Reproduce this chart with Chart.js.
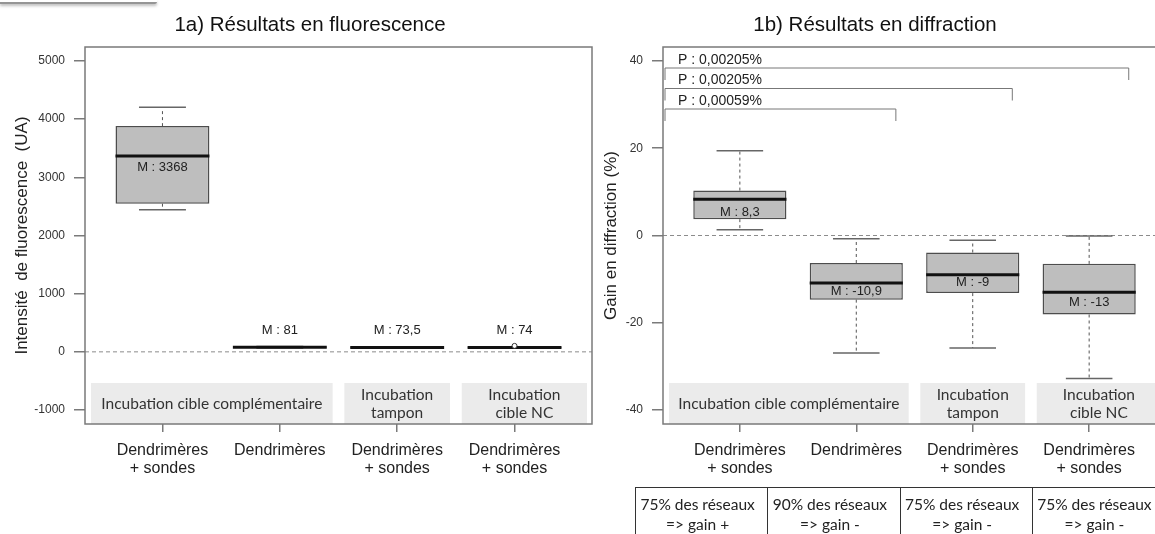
<!DOCTYPE html>
<html>
<head>
<meta charset="utf-8">
<script src="https://cdn.jsdelivr.net/npm/chart.js@4.4.0/dist/chart.umd.min.js"></script>
<style>
  html, body { margin: 0; padding: 0; background: #fff; }
  body { position: relative; width: 1155px; height: 534px; overflow: hidden; font-family: Arial, "Liberation Sans", sans-serif; }
  canvas { position: absolute; top: 0; }
  #chartA { left: 0; }
  #chartB { left: 595px; }
  .title { position: absolute; top: 12px; width: 400px; text-align: center; font-size: 20.5px; line-height: 24px; color: #111; }
  #shadow { position: absolute; left: 0; top: 0; width: 157px; height: 2px; border-bottom: 2px solid #959595; box-shadow: 0 2px 3px rgba(0,0,0,.25); border-radius: 0 0 2px 0; }
  #net { position: absolute; left: 635px; top: 487px; border-collapse: collapse; table-layout: fixed; width: 530px; font-family: Lato, sans-serif; font-size: 15.5px; line-height: 20px; color: #222; }
  #net td { border: 1.5px solid #333; padding: 6px 8px 12px 0; text-align: center; white-space: nowrap; overflow: hidden; }
</style>
</head>
<body>
<canvas id="chartA" width="600" height="534"></canvas>
<canvas id="chartB" width="575" height="534"></canvas>
<div id="shadow"></div>
<div class="title" style="left:110px">1a) Résultats en fluorescence</div>
<div class="title" style="left:675px">1b) Résultats en diffraction</div>
<table id="net"><tr id="netRow"></tr></table>

<script>
// two R-style boxplots rebuilt with chart.js (floating bars = boxes, the rest via a small plugin)

const groupLabels = [['Dendrimères', '+ sondes'], ['Dendrimères'], ['Dendrimères', '+ sondes'], ['Dendrimères', '+ sondes']]
const conditionLabels = ['Incubation cible complémentaire', ['Incubation', 'tampon'], ['Incubation', 'cible NC']]
const conditionGroups = [[1, 2], [3, 3], [4, 4]]

// 1a) fluorescence (UA)
const fluoTicks = [-1000, 0, 1000, 2000, 3000, 4000, 5000]
const fluoMin = [2444, 66, 60, 62]
const fluoQ1 = [2547, 72, 66, 67]
const fluoMedian = [3368, 81, 73.5, 74]
const fluoQ3 = [3880, 90, 80, 82]
const fluoMax = [4205, 94, 84, 86]
const fluoOutliers = [[], [], [], [103]]

// 1b) diffraction gain (%)
const diffTicks = [-40, -20, 0, 20, 40]
const diffMin = [1.3, -26.9, -25.8, -32.8]
const diffQ1 = [3.75, -14.7, -13.2, -18.1]
const diffMedian = [8.3, -10.9, -9, -13]
const diffQ3 = [10.3, -6.3, -3.9, -6.5]
const diffMax = [19.4, -0.75, -1.1, -0.1]
const diffOutliers = [[], [], [], []]

// p-values, each compared against group 1
const pTexts = ['P : 0,00205%', 'P : 0,00205%', 'P : 0,00059%']
const pCompared = [4, 3, 2]

const networkShare = ['75% des réseaux', '90% des réseaux', '75% des réseaux', '75% des réseaux']
const gainSign = ['=> gain +', '=> gain -', '=> gain -', '=> gain -']

const FONT = 'Arial, "Liberation Sans", sans-serif'
const AXIS_GREY = '#7a7a7a'

Chart.defaults.font.family = FONT

const fmt = v => String(v).replace('.', ',')

const line = (ctx, x1, y1, x2, y2) => {
  ctx.beginPath()
  ctx.moveTo(x1, y1)
  ctx.lineTo(x2, y2)
  ctx.stroke()
}

const boxExtras = {
  id: 'boxExtras',
  beforeDatasetsDraw(chart, args, opts) {
    const { ctx, chartArea: area, scales: { x, y } } = chart
    const s = opts.stats
    ctx.save()

    // grey bands naming the incubation condition
    ctx.font = '15.5px Lato, sans-serif'
    ctx.textAlign = 'center'
    ctx.textBaseline = 'middle'
    conditionGroups.forEach(([first, last], i) => {
      const left = first === 1 ? area.left + 6 : x.getPixelForValue(first - 0.45)
      const right = last === groupLabels.length ? area.right - 5 : x.getPixelForValue(last + 0.45)
      const top = area.bottom - 41
      ctx.fillStyle = '#ebebeb'
      ctx.fillRect(left, top, right - left, area.bottom - top)
      const lines = [].concat(conditionLabels[i])
      ctx.fillStyle = '#333'
      lines.forEach((t, k) => {
        ctx.fillText(t, (left + right) / 2, top + 20.5 + (k - (lines.length - 1) / 2) * 18)
      })
    })

    // dashed zero line
    ctx.strokeStyle = '#8c8c8c'
    ctx.lineWidth = 1
    ctx.setLineDash([4, 3])
    const y0 = y.getPixelForValue(0)
    line(ctx, area.left, y0, area.right, y0)

    // whiskers
    ctx.strokeStyle = '#555'
    ctx.setLineDash([3, 3])
    s.median.forEach((_, i) => {
      const px = x.getPixelForValue(i + 1)
      line(ctx, px, y.getPixelForValue(s.q3[i]), px, y.getPixelForValue(s.max[i]))
      line(ctx, px, y.getPixelForValue(s.q1[i]), px, y.getPixelForValue(s.min[i]))
    })
    ctx.restore()
  },

  afterDatasetsDraw(chart, args, opts) {
    const { ctx, chartArea: area, scales: { x, y } } = chart
    const s = opts.stats
    const unit = x.getPixelForValue(2) - x.getPixelForValue(1)
    ctx.save()

    s.median.forEach((m, i) => {
      const px = x.getPixelForValue(i + 1)
      // whisker caps
      ctx.strokeStyle = '#666'
      ctx.lineWidth = 1.5
      line(ctx, px - unit * 0.2, y.getPixelForValue(s.max[i]), px + unit * 0.2, y.getPixelForValue(s.max[i]))
      line(ctx, px - unit * 0.2, y.getPixelForValue(s.min[i]), px + unit * 0.2, y.getPixelForValue(s.min[i]))
      // median
      ctx.strokeStyle = '#111'
      ctx.lineWidth = 3
      const my = y.getPixelForValue(m)
      line(ctx, px - unit * 0.4, my, px + unit * 0.4, my)
      // outliers
      ctx.lineWidth = 1
      ctx.strokeStyle = '#333'
      s.outliers[i].forEach(v => {
        ctx.beginPath()
        ctx.arc(px, y.getPixelForValue(v), 2.5, 0, Math.PI * 2)
        ctx.fillStyle = '#fff'
        ctx.fill()
        ctx.stroke()
      })
      // median label
      ctx.font = '13px ' + FONT
      ctx.fillStyle = '#222'
      ctx.textAlign = 'center'
      ctx.textBaseline = 'middle'
      ctx.fillText('M : ' + fmt(m), px, my + opts.labelOffset[i])
    })

    // significance brackets
    if (opts.brackets) {
      ctx.font = '14px ' + FONT
      ctx.textAlign = 'left'
      opts.brackets.texts.forEach((t, i) => {
        const ly = area.top + 21 + i * 20.5
        const left = area.left + 2
        const right = x.getPixelForValue(opts.brackets.targets[i] + 0.34)
        ctx.strokeStyle = '#777'
        ctx.lineWidth = 1
        ctx.beginPath()
        ctx.moveTo(left, ly + 12)
        ctx.lineTo(left, ly)
        ctx.lineTo(right, ly)
        ctx.lineTo(right, ly + 12)
        ctx.stroke()
        ctx.fillStyle = '#222'
        ctx.fillText(t, area.left + 15, ly - 8)
      })
    }

    // plot frame
    ctx.strokeStyle = AXIS_GREY
    ctx.lineWidth = 1.5
    ctx.strokeRect(area.left, area.top, area.right - area.left, area.bottom - area.top)
    ctx.restore()
  },
}

const makeConfig = (stats, ticks, yMin, yMax, yTitle, look) => ({
  type: 'bar',
  data: {
    datasets: [
      {
        data: stats.q1.map((q, i) => ({ x: i + 1, y: [q, stats.q3[i]] })),
        backgroundColor: '#bebebe',
        borderColor: '#4d4d4d',
        borderWidth: 1.5,
        borderSkipped: false,
        barPercentage: 0.8,
        categoryPercentage: 1,
      },
    ],
  },
  options: {
    responsive: false,
    animation: false,
    events: [],
    layout: { padding: { top: 47, right: look.padRight, left: 0, bottom: 0 } },
    plugins: {
      legend: { display: false },
      tooltip: { enabled: false },
      boxExtras: { stats, labelOffset: look.labelOffset, brackets: look.brackets },
    },
    scales: {
      x: {
        type: 'linear',
        min: 0.34,
        max: 4.66,
        offset: false,
        afterBuildTicks: scale => {
          scale.ticks = groupLabels.map((_, i) => ({ value: i + 1 }))
        },
        afterFit: scale => {
          scale.height = 110
        },
        ticks: {
          callback: v => groupLabels[v - 1],
          autoSkip: false,
          maxRotation: 0,
          padding: 9,
          color: '#222',
          font: { size: 16, lineHeight: 1.15 },
        },
        grid: { offset: false, drawOnChartArea: false, tickLength: 8, color: AXIS_GREY, lineWidth: 1.5 },
        border: { display: false },
      },
      y: {
        min: yMin,
        max: yMax,
        afterBuildTicks: scale => {
          scale.ticks = ticks.map(v => ({ value: v }))
        },
        afterFit: scale => {
          scale.width = look.axisWidth
        },
        ticks: { callback: v => String(v), padding: 9, color: '#333', font: { size: 12 } },
        grid: { drawOnChartArea: false, tickLength: 11, color: AXIS_GREY, lineWidth: 1.5 },
        border: { display: false },
        title: { display: true, text: yTitle, color: '#222', font: { size: 17 }, padding: { top: look.titlePad, bottom: 0 } },
      },
    },
  },
  plugins: [boxExtras],
})

const main = () => {
  const fluoStats = { min: fluoMin, q1: fluoQ1, median: fluoMedian, q3: fluoQ3, max: fluoMax, outliers: fluoOutliers }
  const diffStats = { min: diffMin, q1: diffQ1, median: diffMedian, q3: diffQ3, max: diffMax, outliers: diffOutliers }

  new Chart(
    document.querySelector('#chartA'),
    makeConfig(fluoStats, fluoTicks, -1240, 5240, 'Intensité  de fluorescence  (UA)', {
      padRight: 8,
      axisWidth: 85,
      titlePad: 12,
      labelOffset: [12, -17, -17, -17],
    })
  )

  new Chart(
    document.querySelector('#chartB'),
    makeConfig(diffStats, diffTicks, -43.2, 43.2, 'Gain en diffraction (%)', {
      padRight: 4,
      axisWidth: 68,
      titlePad: 6,
      labelOffset: [13, 8, 8, 10],
      brackets: { texts: pTexts, targets: pCompared },
    })
  )

  // summary table under panel b
  document.querySelector('#netRow').innerHTML = networkShare
    .map((t, i) => `<td>${t}<br>${gainSign[i]}</td>`)
    .join('')
}

window.addEventListener('load', main)
</script>
</body>
</html>
